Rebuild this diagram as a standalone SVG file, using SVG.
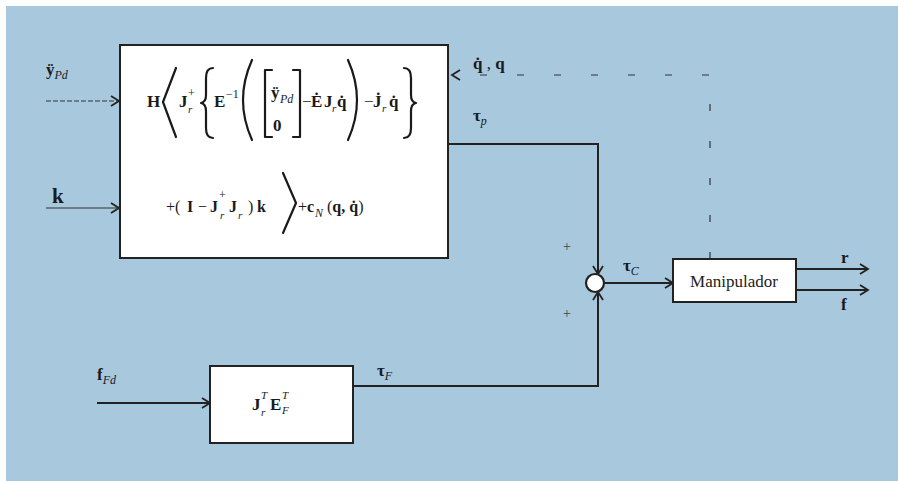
<svg xmlns="http://www.w3.org/2000/svg" width="898" height="481" viewBox="0 0 898 481" font-size="17">
<style>
.m{font-family:"Liberation Serif","DejaVu Serif",serif;font-weight:bold;fill:#1a1a1a}
.s{font-size:11px;font-style:italic;font-weight:normal}
.p{font-size:12px;font-weight:normal}
.i{font-style:italic;font-weight:normal}
.n{font-weight:normal}
.box{fill:#fff;stroke:#222;stroke-width:2}
.ln{fill:none;stroke:#222;stroke-width:2}
.th{fill:none;stroke:#333;stroke-width:1.2}
.dl{fill:none;stroke:#1a1a1a;stroke-width:2.2;stroke-linejoin:round;stroke-linecap:round}
</style>
<defs>
<marker id="ar" markerWidth="12" markerHeight="12" refX="9" refY="6" orient="auto" markerUnits="userSpaceOnUse">
<path d="M1,1 L9,6 L1,11" fill="none" stroke="#222" stroke-width="1.8"/>
</marker>
</defs>
<rect x="0" y="0" width="898" height="481" fill="#fdfdfd"/>
<rect x="6" y="6" width="892" height="475" fill="#a8c8dd"/>

<g id="connectors">
<path class="th" d="M46,101 H119" stroke-dasharray="5 2" marker-end="url(#ar)"/>
<path class="th" d="M46,208 H119" marker-end="url(#ar)"/>
<path class="ln" d="M448,144 H598 V274" marker-end="url(#ar)"/>
<path class="ln" d="M353,386 H598 V292" marker-end="url(#ar)"/>
<path class="ln" d="M604,283 H673" marker-end="url(#ar)"/>
<path class="ln" d="M796,269 H868" marker-end="url(#ar)"/>
<path class="ln" d="M796,290 H868" marker-end="url(#ar)"/>
<path class="th" d="M710,259 V75 H452" stroke-dasharray="7 30" marker-end="url(#ar)"/>
<path class="ln" d="M97,403 H210" marker-end="url(#ar)"/>
</g>

<g id="controller">
<rect class="box" x="120" y="45" width="328" height="213"/>
<text class="m" x="147" y="107">H</text>
<path class="dl" d="M176,68 L163,102 L176,137"/>
<text class="m" x="179" y="107">J</text>
<text class="m p" x="188" y="97">+</text>
<text class="m s" x="188" y="113">r</text>
<path class="dl" d="M213,68 Q206,68 206,78 V95 Q206,102 201,103 Q206,104 206,111 V128 Q206,138 213,138"/>
<text class="m" x="214" y="107">E</text>
<text class="m p" x="226" y="98">−1</text>
<path class="dl" d="M252,60 Q234,100 252,140"/>
<path class="dl" d="M272,70 H265 V137 H272"/>
<text class="m" x="271" y="98">ÿ</text>
<text class="m i" x="280" y="103" font-size="12">Pd</text>
<text class="m" x="273" y="131">0</text>
<path class="dl" d="M293,70 H300 V137 H293"/>
<text class="m n" x="302" y="107">−</text>
<text class="m" x="311" y="107">Ė</text>
<text class="m" x="324" y="107">J</text>
<text class="m s" x="332" y="112">r</text>
<text class="m" x="337" y="107">q̇</text>
<path class="dl" d="M348,60 Q366,100 348,140"/>
<text class="m n" x="364" y="107">−</text>
<text class="m" x="373" y="107">J̇</text>
<text class="m s" x="382" y="112">r</text>
<text class="m" x="389" y="107">q̇</text>
<path class="dl" d="M404,68 Q411,68 411,78 V95 Q411,102 416,103 Q411,104 411,111 V128 Q411,138 404,138"/>

<text class="m n" x="166" y="212" font-size="16">+(</text>
<text class="m" x="187" y="212" font-size="16">I</text>
<text class="m n" x="198" y="212" font-size="16">−</text>
<text class="m" x="210" y="212" font-size="16">J</text>
<text class="m p" x="219" y="199">+</text>
<text class="m s" x="220" y="219">r</text>
<text class="m" x="229" y="212" font-size="16">J</text>
<text class="m s" x="238" y="219">r</text>
<text class="m n" x="248" y="212" font-size="16">)</text>
<text class="m" x="257" y="212" font-size="16">k</text>
<path class="dl" d="M283,173 L296,203 L283,233"/>
<text class="m n" x="298" y="212" font-size="16">+</text>
<text class="m" x="307" y="212" font-size="16">c</text>
<text class="m i" x="315" y="217" font-size="12">N</text>
<text class="m" x="327" y="212" font-size="16"><tspan class="n">(</tspan>q, q̇<tspan class="n">)</tspan></text>
</g>

<g id="jacobian">
<rect class="box" x="210" y="366" width="143" height="77"/>
<text class="m" x="252" y="410">J</text>
<text class="m s" x="261" y="399">T</text>
<text class="m s" x="261" y="416">r</text>
<text class="m" x="270" y="410">E</text>
<text class="m s" x="282" y="399">T</text>
<text class="m s" x="282" y="414">F</text>
</g>

<g id="sum">
<circle cx="595" cy="283" r="9" fill="#fff" stroke="#222" stroke-width="2.2"/>
</g>

<g id="manipulador">
<rect class="box" x="673" y="259" width="123" height="43"/>
<text x="734" y="287" text-anchor="middle" font-family="Liberation Serif,serif" fill="#222">Manipulador</text>
</g>

<g id="labels">
<text class="m" x="46" y="75">ÿ<tspan class="i" font-size="12" dy="4">Pd</tspan></text>
<text class="m" x="52" y="203" font-size="21">k</text>
<text class="m" x="473" y="69">q̇ <tspan class="n">,</tspan> q</text>
<text class="m" x="473" y="121">τ<tspan class="i" font-size="12" dy="4">p</tspan></text>
<text class="m" x="377" y="376">τ<tspan class="i" font-size="12" dy="4">F</tspan></text>
<text class="m" x="623" y="271">τ<tspan class="i" font-size="12" dy="4">C</tspan></text>
<text class="m" x="97" y="380">f<tspan class="i" font-size="12" dy="4">Fd</tspan></text>
<text class="m" x="841" y="263">r</text>
<text class="m" x="841" y="310">f</text>
<text x="563" y="251" font-size="14" font-family="Liberation Serif,serif" fill="#444">+</text>
<text x="563" y="318" font-size="14" font-family="Liberation Serif,serif" fill="#444">+</text>
</g>
</svg>
